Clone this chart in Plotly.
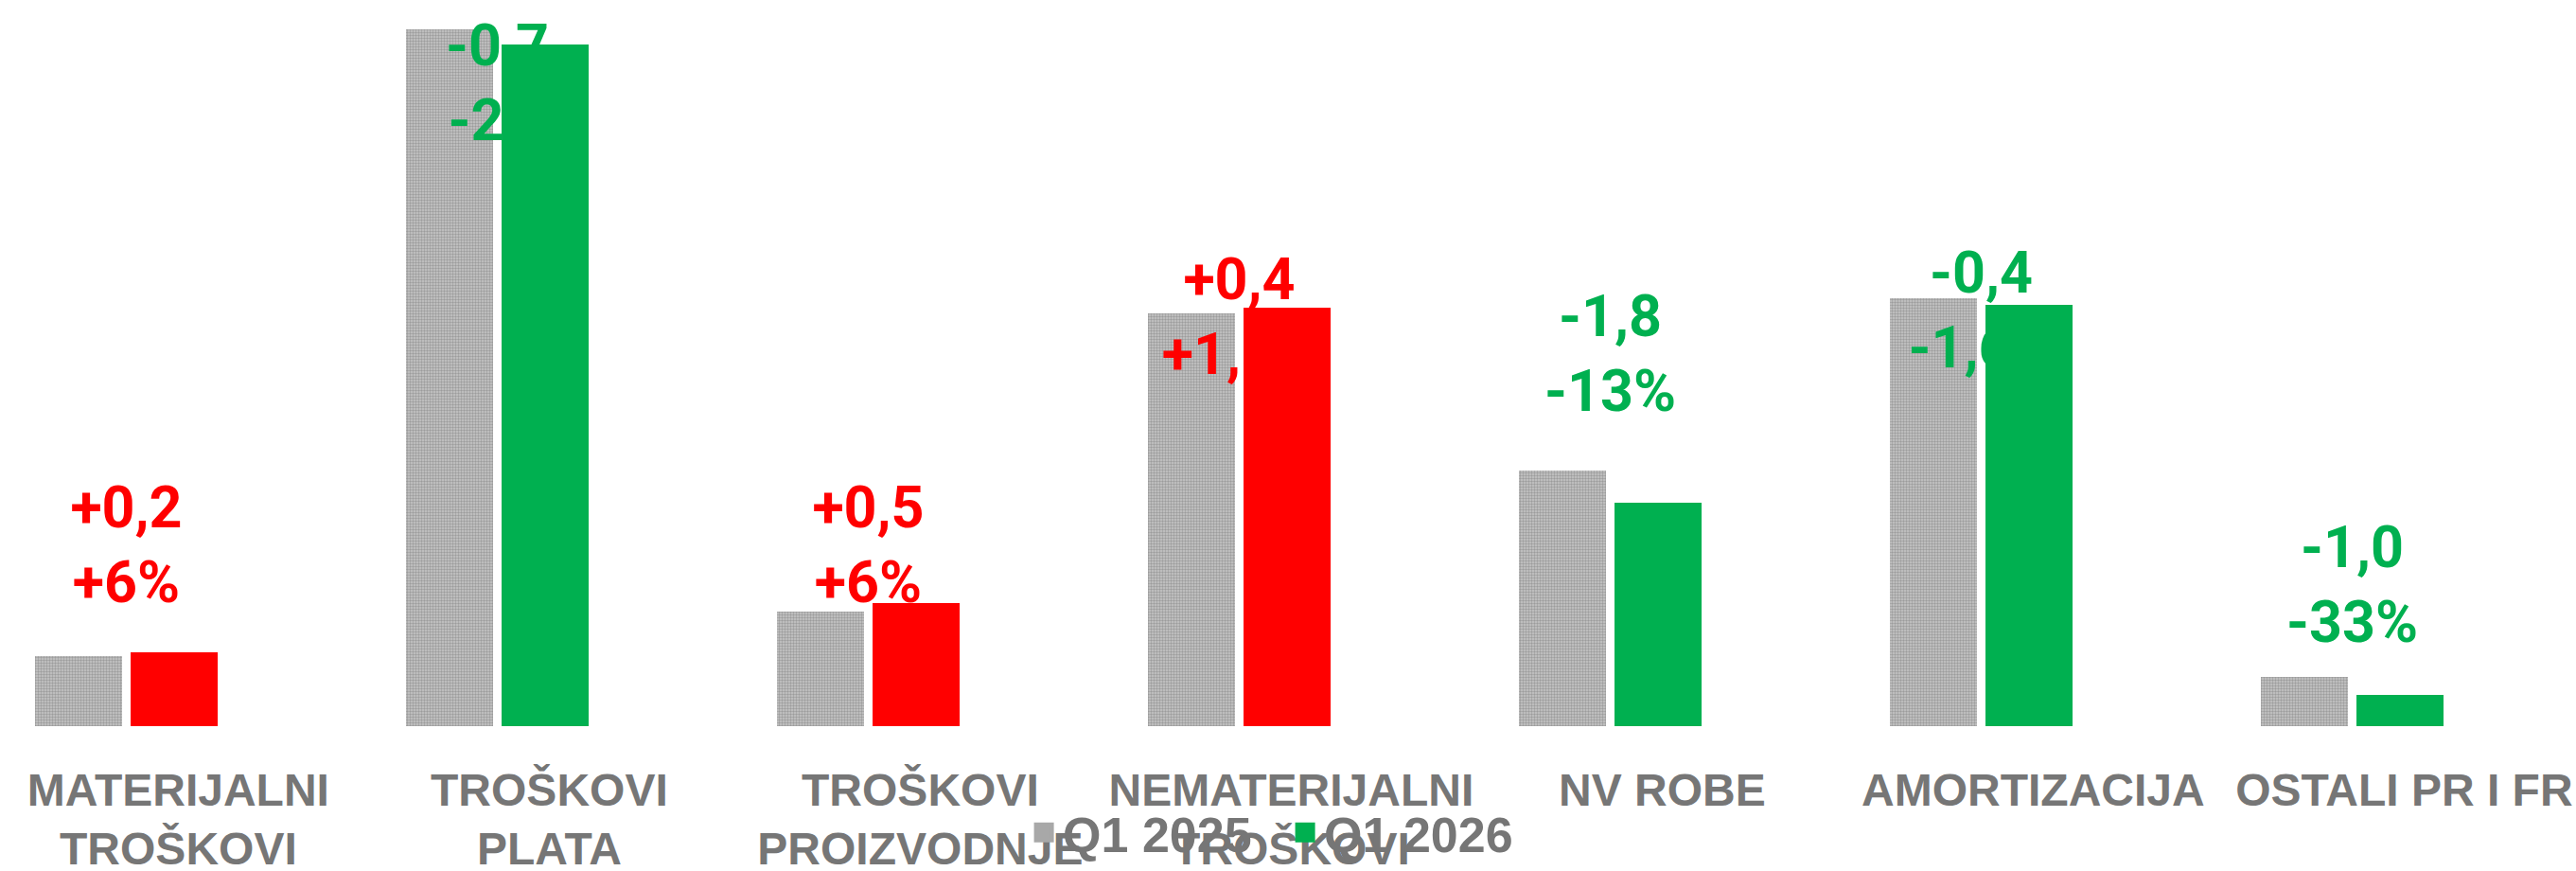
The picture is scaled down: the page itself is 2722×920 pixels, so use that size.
import plotly.graph_objects as go

# Cost categories (two-line tick labels)
categories = [
    "MATERIJALNI<br>TROŠKOVI",
    "TROŠKOVI<br>PLATA",
    "TROŠKOVI<br>PROIZVODNJE",
    "NEMATERIJALNI<br>TROŠKOVI",
    "NV ROBE",
    "AMORTIZACIJA",
    "OSTALI PR I FR",
]

# Series values
q1_2025 = [3.7, 36.8, 6.05, 21.8, 13.5, 22.6, 2.6]
q1_2026 = [3.9, 36.0, 6.5, 22.1, 11.8, 22.25, 1.65]

# Change labels shown above each group
delta = [0.2, -0.7, 0.5, 0.4, -1.8, -0.4, -1.0]
delta_pct = [6, -2, 6, 1.5, -13, -1.6, -33]

RED = "#FF0000"
GREEN = "#00B050"
LABEL_GREY = "#767676"

# Vertical lift of each change label relative to the taller bar (data units)
_label_lift = [5.4, -3.1, 2.8, -0.75, 5.9, -0.9, 4.6]


def _fmt_num(v):
    return f"{v:+.1f}".replace(".", ",")


def _fmt_pct(v):
    if float(v).is_integer():
        return f"{v:+.0f}%"
    return f"{v:+.1f}%".replace(".", ",")


up = [d > 0 for d in delta]
red_vals = [v if u else None for v, u in zip(q1_2026, up)]
green_vals = [None if u else v for v, u in zip(q1_2026, up)]

label_text = [f"{_fmt_num(d)}<br>{_fmt_pct(p)}" for d, p in zip(delta, delta_pct)]
label_colour = [RED if u else GREEN for u in up]
label_y = [max(a, b) + lift for a, b, lift in zip(q1_2025, q1_2026, _label_lift)]

# geometry (category units): bar width and offsets
BAR_W = 0.2347
GREY_OFF = -0.2462
NEW_OFF = 0.0115
X_RANGE = [-0.3406, 6.6033]
LABEL_SHIFT = 0.14  # category labels sit a bit right of the bar groups
Y_RANGE = [0, 38.35]

fig = go.Figure()

# base layer: patterned grey bars, then the change labels on top of them
fig.add_trace(
    go.Bar(
        x=categories,
        y=q1_2025,
        width=BAR_W,
        offset=GREY_OFF,
        marker=dict(
            color="white",
            line=dict(width=0),
            pattern=dict(shape=".", fgcolor="#707070", bgcolor="#c8c8c8", size=3, solidity=0.5),
        ),
        showlegend=False,
        hoverinfo="skip",
    )
)
fig.add_trace(
    go.Scatter(
        x=categories,
        y=label_y,
        mode="text",
        text=label_text,
        textposition="middle center",
        textfont=dict(family="Roboto", size=61, weight="bold", color=label_colour),
        showlegend=False,
        hoverinfo="skip",
    )
)

# overlay layer: coloured Q1 2026 bars cover the labels like in the original
fig.add_trace(
    go.Bar(
        x=categories, y=red_vals, width=BAR_W, offset=NEW_OFF,
        marker=dict(color=RED, line=dict(width=0)),
        xaxis="x2", yaxis="y2", showlegend=False, hoverinfo="skip",
    )
)
fig.add_trace(
    go.Bar(
        x=categories, y=green_vals, width=BAR_W, offset=NEW_OFF,
        marker=dict(color=GREEN, line=dict(width=0)),
        xaxis="x2", yaxis="y2", showlegend=False, hoverinfo="skip",
    )
)

# category labels live on their own overlaid axis
fig.add_trace(
    go.Scatter(
        x=categories, y=[None] * len(categories), mode="none",
        xaxis="x3", showlegend=False, hoverinfo="skip",
    )
)

# legend entries
fig.add_trace(
    go.Scatter(
        x=[None], y=[None], mode="markers", name="Q1 2025",
        marker=dict(symbol="square", size=16, color="#a8a8a8", line=dict(color="#a8a8a8", width=5)),
    )
)
fig.add_trace(
    go.Scatter(
        x=[None], y=[None], mode="markers", name="Q1 2026",
        marker=dict(symbol="square", size=16, color=GREEN, line=dict(color=GREEN, width=5)),
    )
)

hidden_x = dict(range=X_RANGE, showticklabels=False, showgrid=False, zeroline=False,
                showline=False, ticks="", type="category")
hidden_y = dict(range=Y_RANGE, visible=False, showgrid=False, zeroline=False)

fig.update_layout(
    width=2722,
    height=920,
    margin=dict(l=0, r=0, t=0, b=153),
    paper_bgcolor="white",
    plot_bgcolor="white",
    barmode="group",
    xaxis=hidden_x,
    yaxis=hidden_y,
    xaxis2=dict(hidden_x, overlaying="x", anchor="y2"),
    yaxis2=dict(hidden_y, overlaying="y", anchor="x2"),
    xaxis3=dict(
        range=[X_RANGE[0] - LABEL_SHIFT, X_RANGE[1] - LABEL_SHIFT],
        type="category",
        overlaying="x",
        anchor="y",
        side="bottom",
        showgrid=False,
        zeroline=False,
        showline=False,
        ticks="",
        tickangle=0,
        automargin=False,
        ticklabelstandoff=35,
        tickfont=dict(family="Liberation Sans", size=48, weight="bold", color=LABEL_GREY),
    ),
    legend=dict(
        orientation="h",
        x=0.4993,
        xanchor="center",
        y=-0.1473,
        yanchor="middle",
        bgcolor="rgba(0,0,0,0)",
        entrywidth=231,
        font=dict(family="Liberation Sans", size=52, weight="bold", color=LABEL_GREY),
        itemclick=False,
    ),
    showlegend=True,
)

# drop the default page margin so the figure sits at the window's corner
fig.write_html(
    "out.html",
    config={"displayModeBar": False},
    post_script="document.body.style.margin='0';",
)
